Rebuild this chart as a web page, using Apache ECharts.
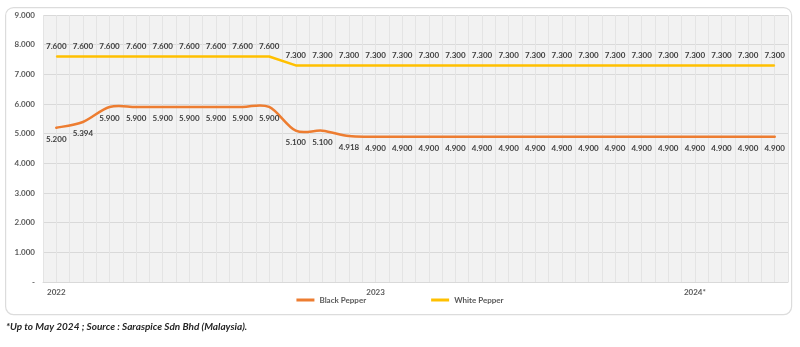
<!DOCTYPE html>
<html>
<head>
<meta charset="utf-8">
<script src="https://cdn.jsdelivr.net/npm/echarts@6/dist/echarts.min.js"></script>
<style>html,body{margin:0;padding:0;background:#fff;}#c{width:800px;height:347px;}</style>
</head>
<body>
<div id="c"></div>
<script>
var categories = ['2022','','','','','','','','','','','',
                  '2023','','','','','','','','','','','',
                  '2024*','','',''];
var blackPepper = [5200,5394,5900,5900,5900,5900,5900,5900,5900,5100,5100,4918,
                   4900,4900,4900,4900,4900,4900,4900,4900,4900,4900,4900,4900,
                   4900,4900,4900,4900];
var whitePepper = [7600,7600,7600,7600,7600,7600,7600,7600,7600,7300,7300,7300,
                   7300,7300,7300,7300,7300,7300,7300,7300,7300,7300,7300,7300,
                   7300,7300,7300,7300];
var yTicks = [0,1000,2000,3000,4000,5000,6000,7000,8000,9000];
var footnote = '*Up to May 2024 ; Source : Saraspice Sdn Bhd (Malaysia).';

function fmt(v){
  if (v === 0) return '-';
  var s = String(Math.round(v));
  return s.slice(0, s.length-3) + '.' + s.slice(s.length-3);
}
// Excel-style smoothed line through the data points, placed by the axes' scales
function smoothRenderer(values, color){
  return function(params, api){
    if (params.dataIndex !== 0) return null;
    var p = values.map(function(v, i){ return api.coord([i, v]); });
    var d = 'M' + p[0][0] + ' ' + p[0][1];
    for (var i = 0; i < p.length - 1; i++){
      var p0 = p[Math.max(i-1, 0)], p1 = p[i], p2 = p[i+1], p3 = p[Math.min(i+2, p.length-1)];
      var c1x = p1[0] + (p2[0]-p0[0])/6, c1y = p1[1] + (p2[1]-p0[1])/6;
      var c2x = p2[0] - (p3[0]-p1[0])/6, c2y = p2[1] - (p3[1]-p1[1])/6;
      d += ' C' + c1x + ' ' + c1y + ' ' + c2x + ' ' + c2y + ' ' + p2[0] + ' ' + p2[1];
    }
    return {type: 'path', shape: {pathData: d}, style: {stroke: color, lineWidth: 2.5, fill: null, lineCap: 'round'}};
  };
}
var FONT = 'Lato';
var chart = echarts.init(document.getElementById('c'), null, {renderer:'canvas'});
chart.setOption({
  backgroundColor: '#ffffff',
  animation: false,
  graphic: [{
    type: 'rect', left: 5, top: 7, z: -10,
    shape: {width: 786, height: 307, r: 8},
    style: {fill: '#ffffff', stroke: '#dcdcdc', lineWidth: 1.2}
  }],
  title: {
    text: footnote, left: 1, top: 317,
    textStyle: {fontFamily: FONT, fontSize: 10, fontWeight: 'bold', fontStyle: 'italic', color: '#262626'}
  },
  legend: {
    bottom: 38, left: 'center', itemGap: 65, itemWidth: 18, itemHeight: 3, icon: 'rect',
    textStyle: {fontFamily: FONT, fontSize: 8, color: '#595959', fontWeight: 'bold'},
    data: ['Black Pepper', 'White Pepper']
  },
  grid: {left: 43, right: 12, top: 15, bottom: 65, show: true, backgroundColor: '#f2f2f2', borderWidth: 0},
  xAxis: [{
    type: 'category', data: categories, boundaryGap: true,
    axisLine: {lineStyle: {color: '#d9d9d9', width: 1}},
    axisTick: {show: false},
    axisLabel: {interval: 0, margin: 6, fontFamily: FONT, fontSize: 8, fontWeight: 'bold', color: '#595959'},
    splitLine: {show: false}
  }, {
    type: 'value', min: -0.5, max: 27.5, interval: 0.5, position: 'bottom',
    axisLine: {show: false}, axisTick: {show: false}, axisLabel: {show: false},
    splitLine: {show: true, lineStyle: {color: '#e4e4e4', width: 1}}
  }],
  yAxis: {
    type: 'value', min: 0, max: 9000, interval: 1000,
    axisLine: {show: false}, axisTick: {show: false},
    axisLabel: {margin: 8, fontFamily: FONT, fontSize: 8, fontWeight: 'bold', color: '#595959',
      formatter: function(v){ return yTicks.indexOf(v) >= 0 ? fmt(v) : ''; }},
    splitLine: {lineStyle: {color: '#d9d9d9', width: 1}}
  },
  series: [{
    name: 'Black Pepper', type: 'line', data: blackPepper, xAxisIndex: 0,
    showSymbol: true, symbol: 'circle', symbolSize: 1,
    lineStyle: {color: '#ED7D31', width: 0, opacity: 0}, itemStyle: {color: '#ED7D31'},
    label: {show: true, position: 'bottom', distance: 7, formatter: function(p){return fmt(p.value);},
      fontFamily: FONT, fontSize: 8, fontWeight: 'bold', color: '#404040'}
  }, {
    name: 'White Pepper', type: 'line', data: whitePepper, xAxisIndex: 0, smooth: false,
    showSymbol: true, symbol: 'circle', symbolSize: 1,
    lineStyle: {color: '#FFC000', width: 2.5}, itemStyle: {color: '#FFC000'},
    label: {show: true, position: 'top', distance: 6, formatter: function(p){return fmt(p.value);},
      fontFamily: FONT, fontSize: 8, fontWeight: 'bold', color: '#404040'}
  }, {
    name: 'bpCurve', type: 'custom', xAxisIndex: 0, yAxisIndex: 0, z: 1,
    data: [[0, blackPepper[0]]], renderItem: smoothRenderer(blackPepper, '#ED7D31'), silent: true
  }]
});
</script>
</body>
</html>
